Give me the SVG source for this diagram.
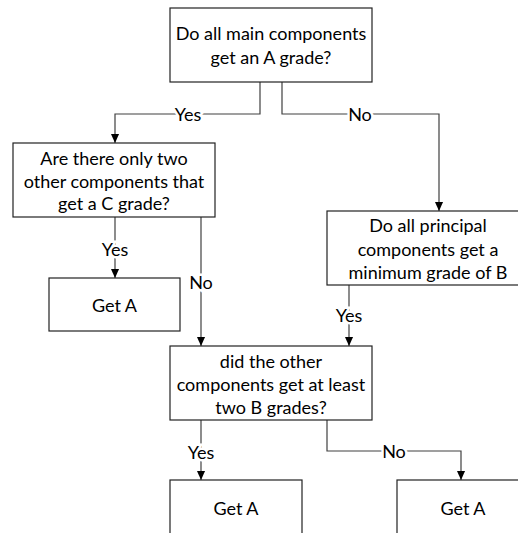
<svg xmlns="http://www.w3.org/2000/svg" width="518" height="533" viewBox="0 0 518 533">
<defs>
<marker id="ah" viewBox="0 0 10 10" refX="10" refY="5" markerWidth="9" markerHeight="9" markerUnits="userSpaceOnUse" orient="auto">
<path d="M0,0.5 L10,5 L0,9.5 Z" fill="#000"/>
</marker>
<style>
.box{fill:#fff;stroke:#222;stroke-width:1.2}
.t{font-family:Lato,"Liberation Sans",sans-serif;font-size:18px;fill:#000;text-anchor:middle;dominant-baseline:central}
.c{fill:none;stroke:#404040;stroke-width:1.2;marker-end:url(#ah)}
.l{font-family:Lato,"Liberation Sans",sans-serif;font-size:18px;fill:#000;text-anchor:middle;dominant-baseline:central;stroke:#fff;stroke-width:5;paint-order:stroke}
</style>
</defs>
<rect width="518" height="533" fill="#fff"/>
<g id="connectors">
<path class="c" d="M260,82 V114 H115 V143"/>
<path class="c" d="M282,82 V114 H439 V211"/>
<path class="c" d="M115,217 V278"/>
<path class="c" d="M201,217 V346"/>
<path class="c" d="M349,285 V346"/>
<path class="c" d="M201,420 V480"/>
<path class="c" d="M327,420 V451 H461 V480"/>
<text class="l" x="188" y="114">Yes</text>
<text class="l" x="360" y="114">No</text>
<text class="l" x="115" y="249">Yes</text>
<text class="l" x="201" y="282">No</text>
<text class="l" x="349" y="315">Yes</text>
<text class="l" x="201" y="452">Yes</text>
<text class="l" x="394" y="451">No</text>
</g>
<g id="q1">
<rect class="box" x="170" y="8" width="202" height="74"/>
<text class="t" x="271" y="33">Do all main components</text>
<text class="t" x="271" y="57">get an A grade?</text>
</g>
<g id="q2">
<rect class="box" x="13" y="143" width="202" height="74"/>
<text class="t" x="114" y="158">Are there only two</text>
<text class="t" x="114" y="180.5">other components that</text>
<text class="t" x="114" y="203">get a C grade?</text>
</g>
<g id="q3">
<rect class="box" x="327" y="211" width="202" height="74"/>
<text class="t" x="428" y="225">Do all principal</text>
<text class="t" x="428" y="248.5">components get a</text>
<text class="t" x="428" y="272">minimum grade of B</text>
</g>
<g id="a1">
<rect class="box" x="49" y="278" width="131" height="53"/>
<text class="t" x="114.5" y="305">Get A</text>
</g>
<g id="q4">
<rect class="box" x="170" y="346" width="202" height="74"/>
<text class="t" x="271" y="361">did the other</text>
<text class="t" x="271" y="384">components get at least</text>
<text class="t" x="271" y="407">two B grades?</text>
</g>
<g id="a2">
<rect class="box" x="170" y="480" width="132" height="60"/>
<text class="t" x="236" y="508">Get A</text>
</g>
<g id="a3">
<rect class="box" x="397" y="480" width="132" height="60"/>
<text class="t" x="463" y="508">Get A</text>
</g>
</svg>
